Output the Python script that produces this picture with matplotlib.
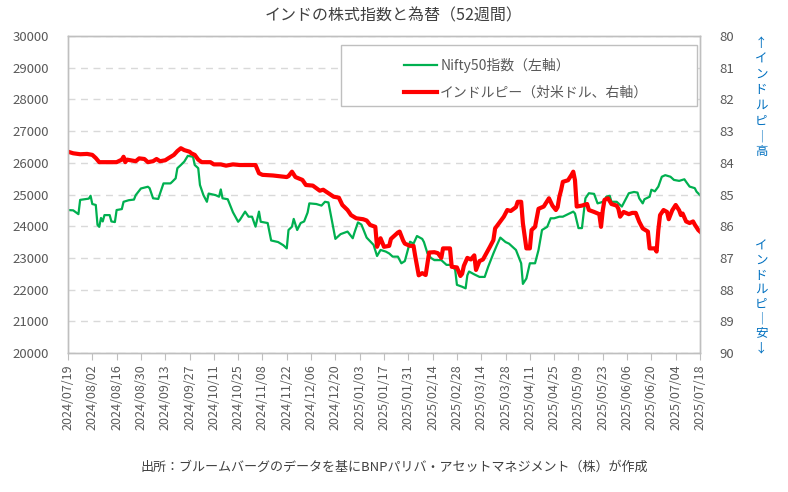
import matplotlib
matplotlib.use('Agg')
import matplotlib.pyplot as plt
import matplotlib.dates as mdates
from matplotlib.patches import Rectangle
import numpy as np

plt.rcParams['font.family'] = ['Noto Sans CJK JP', 'DejaVu Sans']

# ── データ（2024/07/19からの経過日数と値） ──────────────────
START = '2024-07-19'
END = '2025-07-18'

nifty_days = [
    0, 3, 6, 7, 12, 13, 14, 16, 17, 18, 19, 20, 21, 24, 25, 27, 28, 31, 32, 35,
    38, 39, 42, 46, 47, 49, 52, 53, 55, 59, 60, 62, 63, 65, 67, 69, 72, 73, 75, 76,
    78, 80, 81, 85, 87, 88, 89, 92, 95, 98, 99, 102, 104, 106, 108, 110, 111, 115, 117, 121,
    124, 126, 127, 129, 130, 132, 134, 136, 138, 139, 143, 146, 148, 150, 154, 157, 161, 164, 165, 167,
    169, 172, 176, 178, 180, 183, 185, 187, 190, 192, 194, 197, 199, 201, 204, 205, 207, 209, 211, 215,
    218, 221, 223, 224, 227, 229, 230, 231, 234, 237, 240, 242, 245, 247, 249, 252, 254, 257, 258, 261,
    262, 264, 266, 269, 271, 273, 276, 278, 280, 283, 285, 288, 291, 292, 294, 296, 298, 300, 303, 305,
    307, 309, 310, 312, 313, 316, 319, 321, 323, 326, 328, 329, 331, 332, 335, 336, 338, 340, 342, 344,
    347, 349, 352, 355, 356, 358, 361, 362, 364,
]
nifty_values = [
    24510, 24500, 24380, 24830, 24870, 24960, 24700, 24670, 24040, 23980, 24260, 24150, 24350, 24350, 24150, 24130, 24510, 24540, 24770, 24820,
    24840, 24980, 25190, 25245, 25200, 24880, 24860, 25030, 25350, 25350, 25400, 25510, 25830, 25930, 26040, 26220, 26190, 25930, 25830, 25300,
    24980, 24770, 25030, 24980, 24930, 25160, 24880, 24850, 24440, 24140, 24200, 24460, 24300, 24300, 23985, 24460, 24140, 24100, 23550, 23500,
    23400, 23300, 23880, 23985, 24230, 23880, 24100, 24150, 24430, 24720, 24700, 24650, 24770, 24750, 23600, 23750, 23830, 23620, 23800, 24120,
    24050, 23640, 23410, 23060, 23250, 23200, 23140, 23040, 23040, 22830, 22900, 23510, 23450, 23690, 23600, 23500, 23150, 23000, 22930, 22930,
    22780, 22780, 22620, 22150, 22090, 22040, 22450, 22570, 22480, 22400, 22400, 22720, 23140, 23400, 23640, 23500, 23450, 23300, 23250, 22830,
    22180, 22350, 22830, 22830, 23250, 23880, 23980, 24250, 24250, 24300, 24300, 24380, 24460, 24400, 23940, 23940, 24880, 25040, 25020, 24720,
    24750, 24800, 24930, 24960, 24770, 24770, 24620, 24830, 25040, 25080, 25060, 24880, 24720, 24850, 24930, 25150, 25100, 25250, 25560, 25610,
    25560, 25460, 25430, 25480, 25400, 25250, 25200, 25090, 24980,
]

inr_days = [
    0, 3, 7, 11, 14, 16, 18, 28, 31, 32, 33, 34, 37, 39, 41, 44, 46, 49, 51, 53,
    56, 58, 61, 63, 65, 67, 70, 71, 73, 75, 77, 82, 84, 88, 91, 95, 99, 108, 110, 112,
    118, 121, 126, 127, 129, 131, 135, 137, 141, 143, 145, 147, 150, 153, 156, 158, 161, 163, 166, 170,
    172, 174, 177, 178, 180, 182, 185, 186, 188, 190, 191, 193, 194, 197, 199, 200, 202, 204, 206, 208,
    211, 213, 215, 216, 220, 221, 224, 226, 227, 228, 230, 232, 234, 235, 237, 239, 241, 243, 245, 246,
    249, 251, 253, 255, 258, 259, 261, 262, 264, 266, 267, 269, 271, 274, 277, 279, 281, 282, 283, 284,
    285, 288, 290, 291, 292, 293, 296, 299, 300, 303, 306, 307, 308, 309, 311, 313, 316, 317, 318, 320,
    323, 325, 327, 329, 331, 334, 335, 338, 339, 340, 341, 343, 345, 346, 348, 350, 352, 353, 354, 356,
    358, 360, 361, 363, 364,
]
inr_values = [
    83.65, 83.70, 83.73, 83.72, 83.75, 83.85, 83.98, 83.98, 83.90, 83.81, 83.98, 83.90, 83.93, 83.95, 83.86, 83.88, 83.98, 83.95, 83.88, 83.95,
    83.92, 83.85, 83.75, 83.63, 83.54, 83.60, 83.65, 83.70, 83.75, 83.90, 83.98, 83.98, 84.05, 84.05, 84.09, 84.05, 84.07, 84.07, 84.33, 84.38,
    84.40, 84.42, 84.45, 84.42, 84.28, 84.45, 84.54, 84.70, 84.72, 84.80, 84.88, 84.85, 84.96, 85.07, 85.10, 85.33, 85.49, 85.65, 85.75, 85.78,
    85.82, 85.96, 86.02, 86.65, 86.38, 86.65, 86.62, 86.40, 86.30, 86.20, 86.17, 86.45, 86.55, 86.62, 86.62, 86.95, 87.55, 87.48, 87.54, 86.83,
    86.82, 86.85, 87.00, 86.70, 86.70, 87.28, 87.30, 87.57, 87.50, 87.25, 87.00, 87.05, 86.92, 87.38, 87.10, 87.05, 86.85, 86.65, 86.44, 86.07,
    85.85, 85.70, 85.49, 85.52, 85.40, 85.23, 85.23, 85.91, 86.70, 86.70, 86.12, 86.02, 85.45, 85.38, 85.12, 85.35, 85.49, 85.40, 85.07, 84.86,
    84.60, 84.55, 84.38, 84.28, 84.55, 85.38, 85.35, 85.30, 85.49, 85.55, 85.62, 86.02, 85.50, 85.17, 85.12, 85.30, 85.35, 85.45, 85.70, 85.55,
    85.62, 85.58, 85.58, 85.86, 86.07, 86.17, 86.70, 86.70, 86.80, 86.12, 85.65, 85.49, 85.55, 85.78, 85.50, 85.33, 85.50, 85.65, 85.60, 85.85,
    85.90, 85.85, 85.95, 86.12, 86.17,
]

TITLE = 'インドの株式指数と為替（52週間）'
SOURCE = '出所：ブルームバーグのデータを基にBNPパリバ・アセットマネジメント（株）が作成'
NIFTY_LABEL = 'Nifty50指数（左軸）'
INR_LABEL = 'インドルピー（対米ドル、右軸）'
UP_NOTE = '↑インドルピー高'
DOWN_NOTE = 'インドルピー安↓'

GREEN = '#00B050'
RED = '#FF0000'
TEXT = '#595959'
SPINE = '#BFBFBF'
GRID = '#D9D9D9'
BLUE = '#0070C0'

base = np.datetime64(START)
nifty_dates = base + np.array(nifty_days, dtype='timedelta64[D]')
inr_dates = base + np.array(inr_days, dtype='timedelta64[D]')
ticks = np.arange(np.datetime64(START), np.datetime64(END) + 1, 14)

fig = plt.figure(figsize=(7.88, 4.92), dpi=100)
ax = fig.add_axes([68 / 788, 1 - 353 / 492, 632 / 788, 317 / 492])
ax2 = ax.twinx()

ax.plot(nifty_dates, nifty_values, color=GREEN, linewidth=1.6, label=NIFTY_LABEL)
ax2.plot(inr_dates, inr_values, color=RED, linewidth=3.0, label=INR_LABEL)

ax.set_ylim(20000, 30000)
ax.set_yticks(np.arange(20000, 30001, 1000))
ax2.set_ylim(90, 80)
ax2.set_yticks(np.arange(80, 91, 1))
ax.set_xlim(np.datetime64(START), np.datetime64(END))
ax.set_xticks(ticks)
ax.xaxis.set_major_formatter(mdates.DateFormatter('%Y/%m/%d'))

ax.grid(axis='y', color=GRID, linestyle=(0, (5, 4)), linewidth=1)
ax.set_axisbelow(True)

for a in (ax, ax2):
    for s in a.spines.values():
        s.set_color(SPINE)
        s.set_linewidth(1)
ax.tick_params(axis='x', colors=SPINE, labelcolor=TEXT, labelsize=9,
               labelrotation=90, length=5, pad=3)
ax.tick_params(axis='y', length=0, labelcolor=TEXT, labelsize=9.5, pad=14)
ax2.tick_params(axis='y', length=0, labelcolor=TEXT, labelsize=9.5, pad=14)

# 凡例（枠は手描き）
ax2.add_patch(Rectangle((0.432, 0.779), 0.563, 0.193, transform=ax2.transAxes,
                        facecolor='white', edgecolor=SPINE, linewidth=1, zorder=5))
h1, l1 = ax.get_legend_handles_labels()
h2, l2 = ax2.get_legend_handles_labels()
leg = ax2.legend(h1 + h2, l1 + l2, loc='upper left', bbox_to_anchor=(0.512, 0.97),
                 frameon=False, fontsize=10, handlelength=2.4, handletextpad=0.2,
                 labelspacing=0.9)
leg.set_zorder(6)
for t in leg.get_texts():
    t.set_color(TEXT)

fig.text(0.5, 1 - 16 / 492, TITLE, ha='center', va='center', fontsize=11.5, color='#404040')
fig.text(0.5, 1 - 467 / 492, SOURCE, ha='center', va='center', fontsize=9.4, color='#404040')

def vertical(s):
    return '\n'.join(s.replace('ー', '｜'))

fig.text(761 / 788, 1 - 37 / 492, vertical(UP_NOTE), ha='center', va='top',
         fontsize=9, color=BLUE, linespacing=1.25)
fig.text(761 / 788, 1 - 354 / 492, vertical(DOWN_NOTE), ha='center', va='bottom',
         fontsize=9, color=BLUE, linespacing=1.15)

plt.savefig('out.png', dpi=100)
plt.close()
